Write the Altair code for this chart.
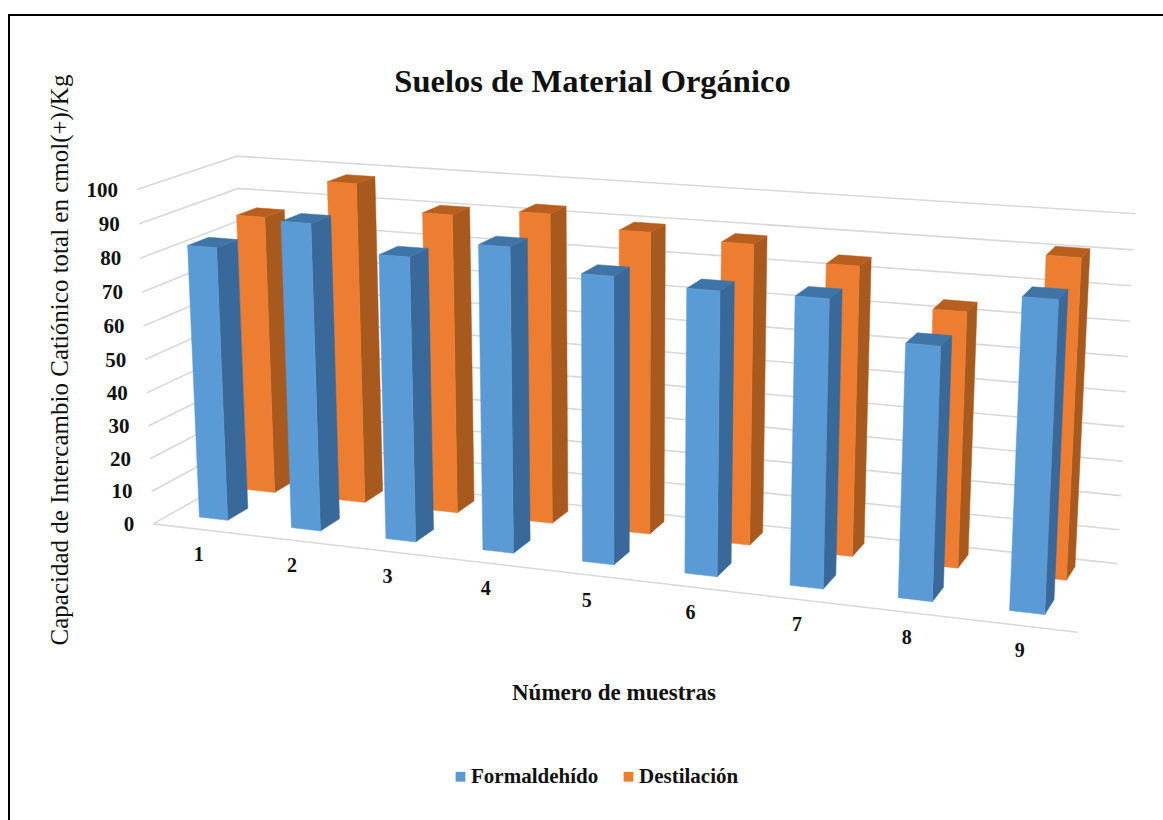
import altair as alt
import numpy as np

# Chart values
categories = ["1", "2", "3", "4", "5", "6", "7", "8", "9"]
formaldehido = [82.8, 91.9, 84.4, 89.4, 83.4, 81.6, 81.8, 71.4, 86.3]
destilacion = [86.2, 98.2, 90.9, 93.2, 89.9, 88.6, 84.6, 74.1, 91.3]
y_ticks = [0, 10, 20, 30, 40, 50, 60, 70, 80, 90, 100]

SERIES = ["Formaldehído", "Destilación"]
FRONT = ["#5B9BD5", "#ED7D31"]
SIDE = ["#38699A", "#A85A1E"]
TOP = ["#3F74A6", "#B85F20"]
GRID = "#D9D9D9"
SERIF = "Liberation Serif"

W, H = 1163, 820

# Perspective camera of the 3D box: x in category units, y in depth 0..1, z in axis units.
left_edge = [(153, 523), (152, 492), (151, 458), (148, 427), (147, 393), (146, 360),
             (143, 326), (142, 292), (140, 258), (138, 224), (137, 189)]
right_edge = [(1117, 563), (1119, 529), (1121, 496), (1123, 461), (1125, 426), (1127, 392),
              (1128, 357), (1129, 322), (1132, 286), (1133, 250), (1135, 213)]
anchors = [((0, 0, t), p) for t, p in zip(y_ticks, left_edge)]
anchors += [((9, 1, t), p) for t, p in zip(y_ticks, right_edge)]
anchors += [((0, 1, 100), (238, 156)), ((0, 1, 90), (238, 189)), ((0, 1, 0), (248, 470)),
            ((9, 0, 0), (1077, 633))]


def fit_camera(pairs):
    rows = []
    for (x, y, z), (u, v) in pairs:
        X = [x / 9, y, z / 100, 1]
        u, v = u / 1000, v / 1000
        rows.append(X + [0, 0, 0, 0] + [-u * c for c in X])
        rows.append([0, 0, 0, 0] + X + [-v * c for c in X])
    return np.linalg.svd(np.array(rows))[2][-1].reshape(3, 4)


CAM = fit_camera(anchors)


def project(x, y, z):
    p = CAM @ np.array([x / 9, y, z / 100, 1])
    return [float(p[0] / p[2] * 1000), float(p[1] / p[2] * 1000)]


def polygon(corners, **props):
    ring = [project(*c) for c in corners]
    ring.append(ring[0])
    return {"type": "Feature", "geometry": {"type": "Polygon", "coordinates": [ring]},
            "properties": {}, **props}


def polyline(corners):
    return {"type": "Feature", "properties": {},
            "geometry": {"type": "LineString", "coordinates": [project(*c) for c in corners]}}


BAR_X = (0.35, 0.66)
ROW_Y = [(0.145, 0.355), (0.645, 0.855)]
FLOOR = 0.7  # columns stand on the floor slab, slightly above the zero line


def bar_faces(series_index, values):
    y0, y1 = ROW_Y[series_index]
    front, side, top = [], [], []
    for i, v in enumerate(values):
        x0, x1 = i + BAR_X[0], i + BAR_X[1]
        front.append(polygon([(x0, y0, FLOOR), (x1, y0, FLOOR), (x1, y0, v), (x0, y0, v)],
                             series=SERIES[series_index]))
        side.append(polygon([(x1, y0, FLOOR), (x1, y1, FLOOR), (x1, y1, v), (x1, y0, v)]))
        top.append(polygon([(x0, y0, v), (x1, y0, v), (x1, y1, v), (x0, y1, v)]))
    return front, side, top


# Pixel-space projection shared by every layer
PROJ = dict(type="identity", scale=1, translate=[0, 0])


def shapes(features, **mark):
    return alt.Chart(alt.Data(values=features)).mark_geoshape(**mark).project(**PROJ)


color = alt.Color("series:N",
                  scale=alt.Scale(domain=SERIES, range=FRONT),
                  legend=alt.Legend(orient="none", legendX=450, legendY=766, direction="horizontal",
                                    title=None, symbolType="square", symbolSize=95,
                                    symbolStrokeWidth=0, labelFont=SERIF, labelFontSize=21,
                                    labelFontWeight="bold", labelColor="#111111",
                                    columnPadding=19, labelOffset=0))

layers = []

# Frame line of the figure
frame_line = [{"type": "Feature", "properties": {},
               "geometry": {"type": "LineString",
                            "coordinates": [[9, H], [9, 15], [W, 15]]}}]
layers.append(shapes(frame_line, filled=False, stroke="#000000", strokeWidth=2))

# Gridlines on the walls and the front edge of the floor
grid = [polyline([(0, 0, t), (0, 1, t), (9, 1, t)]) for t in y_ticks]
grid.append(polyline([(0, 0, 0), (9, 0, 0)]))
layers.append(shapes(grid, filled=False, stroke=GRID, strokeWidth=1.6))

# Back row first so the front row paints over it
for idx, values in [(1, destilacion), (0, formaldehido)]:
    front, side, top = bar_faces(idx, values)
    layers.append(shapes(side, fill=SIDE[idx], stroke=SIDE[idx], strokeWidth=0.5))
    layers.append(shapes(top, fill=TOP[idx], stroke=TOP[idx], strokeWidth=0.5))
    layers.append(shapes(front, stroke=FRONT[idx], strokeWidth=0.5).encode(color=color))

# Value labels beside the left wall
tick_rows = []
for t in y_ticks:
    lon, lat = project(0, 0, t)
    tick_rows.append({"lon": lon, "lat": lat, "label": str(t)})
layers.append(alt.Chart(alt.Data(values=tick_rows))
              .mark_text(font=SERIF, fontSize=21, fontWeight="bold", color="#111111",
                         align="right", baseline="middle", dx=-19, dy=1)
              .encode(longitude="lon:Q", latitude="lat:Q", text="label:N").project(**PROJ))

# Category labels below the floor
cat_rows = []
for i, c in enumerate(categories):
    lon, lat = project(i + 0.5, 0, 0)
    cat_rows.append({"lon": lon, "lat": lat, "label": c})
layers.append(alt.Chart(alt.Data(values=cat_rows))
              .mark_text(font=SERIF, fontSize=20, fontWeight="bold", color="#111111",
                         align="center", baseline="middle", dy=26)
              .encode(longitude="lon:Q", latitude="lat:Q", text="label:N").project(**PROJ))

# Axis titles
y_title = [{"lon": 60, "lat": 360, "label": "Capacidad de Intercambio Catiónico total en cmol(+)/Kg"}]
layers.append(alt.Chart(alt.Data(values=y_title))
              .mark_text(font=SERIF, fontSize=25, color="#111111", angle=270,
                         align="center", baseline="middle")
              .encode(longitude="lon:Q", latitude="lat:Q", text="label:N").project(**PROJ))
x_title = [{"lon": 614, "lat": 693, "label": "Número de muestras"}]
layers.append(alt.Chart(alt.Data(values=x_title))
              .mark_text(font=SERIF, fontSize=23, fontWeight="bold", color="#111111",
                         align="center", baseline="middle")
              .encode(longitude="lon:Q", latitude="lat:Q", text="label:N").project(**PROJ))

chart = (
    alt.layer(*layers)
    .properties(
        width=W,
        height=H,
        padding=0,
        autosize=alt.AutoSizeParams(type="none"),
        background="#FFFFFF",
        title=alt.TitleParams(
            "Suelos de Material Orgánico", font=SERIF, fontSize=32.5, fontWeight="bold",
            color="#111111", anchor="middle", dx=11, offset=-131, baseline="bottom",
        ),
    )
    .configure_view(stroke=None)
)

chart.save("out.html", embed_options={"renderer": "svg", "actions": False})
